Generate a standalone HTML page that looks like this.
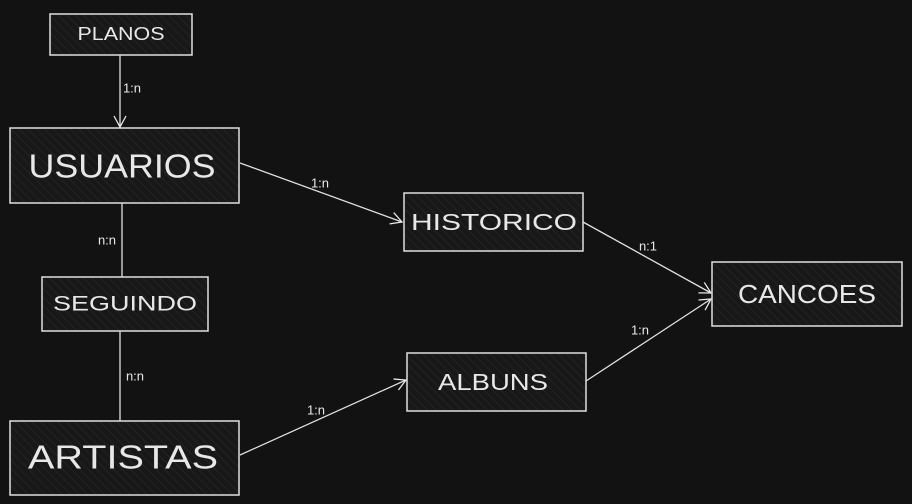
<!DOCTYPE html>
<html><head><style>
body{margin:0;background:#121212;}
svg{display:block}
text{font-family:"Liberation Sans",sans-serif;fill:#e8e8e8;text-anchor:middle;dominant-baseline:central}
</style></head><body>
<svg width="912" height="504" viewBox="0 0 912 504">
<defs>
<pattern id="h" width="6" height="6" patternUnits="userSpaceOnUse" patternTransform="rotate(-45)">
<rect width="6" height="6" fill="#181818"/><line x1="0" y1="0" x2="0" y2="6" stroke="#262626" stroke-width="1.5"/>
</pattern>
<marker id="a" markerWidth="14" markerHeight="14" refX="12" refY="7" orient="auto" markerUnits="userSpaceOnUse">
<path d="M1,1 L12,7 L1,13" fill="none" stroke="#e8e8e8" stroke-width="1.3"/>
</marker>
</defs>
<g fill="url(#h)" stroke="#e0e0e0" stroke-width="1.5">
<rect x="50" y="14" width="142" height="41"/>
<rect x="10" y="128" width="229" height="75"/>
<rect x="404" y="193" width="179" height="58"/>
<rect x="712" y="262" width="190" height="64"/>
<rect x="42" y="277" width="166" height="54"/>
<rect x="407" y="353" width="179" height="58"/>
<rect x="10" y="421" width="229" height="74"/>
</g>
<g stroke="#e0e0e0" stroke-width="1.3" fill="none">
<line x1="120" y1="55" x2="120" y2="127" marker-end="url(#a)"/>
<line x1="240" y1="163" x2="402" y2="222" marker-end="url(#a)"/>
<line x1="583" y1="222" x2="711" y2="293" marker-end="url(#a)"/>
<line x1="586" y1="381" x2="711" y2="299" marker-end="url(#a)"/>
<line x1="240" y1="455" x2="406" y2="380" marker-end="url(#a)"/>
<line x1="122" y1="203" x2="122" y2="277"/>
<line x1="120" y1="331" x2="120" y2="421"/>
</g>
<g font-size="13">
<text x="132" y="88">1:n</text>
<text x="320" y="183">1:n</text>
<text x="648" y="246">n:1</text>
<text x="640" y="330">1:n</text>
<text x="316" y="410">1:n</text>
<text x="107" y="240">n:n</text>
<text x="135" y="376">n:n</text>
</g>
<g lengthAdjust="spacingAndGlyphs">
<text x="121" y="34" font-size="18" textLength="87" lengthAdjust="spacingAndGlyphs">PLANOS</text>
<text x="122" y="166" font-size="33" textLength="187" lengthAdjust="spacingAndGlyphs">USUARIOS</text>
<text x="494" y="222" font-size="23" textLength="166" lengthAdjust="spacingAndGlyphs">HISTORICO</text>
<text x="807" y="294" font-size="26" textLength="138" lengthAdjust="spacingAndGlyphs">CANCOES</text>
<text x="125" y="304" font-size="21" textLength="144" lengthAdjust="spacingAndGlyphs">SEGUINDO</text>
<text x="493" y="382" font-size="23" textLength="110" lengthAdjust="spacingAndGlyphs">ALBUNS</text>
<text x="123" y="457" font-size="33" textLength="190" lengthAdjust="spacingAndGlyphs">ARTISTAS</text>
</g>
</svg>
</body></html>
